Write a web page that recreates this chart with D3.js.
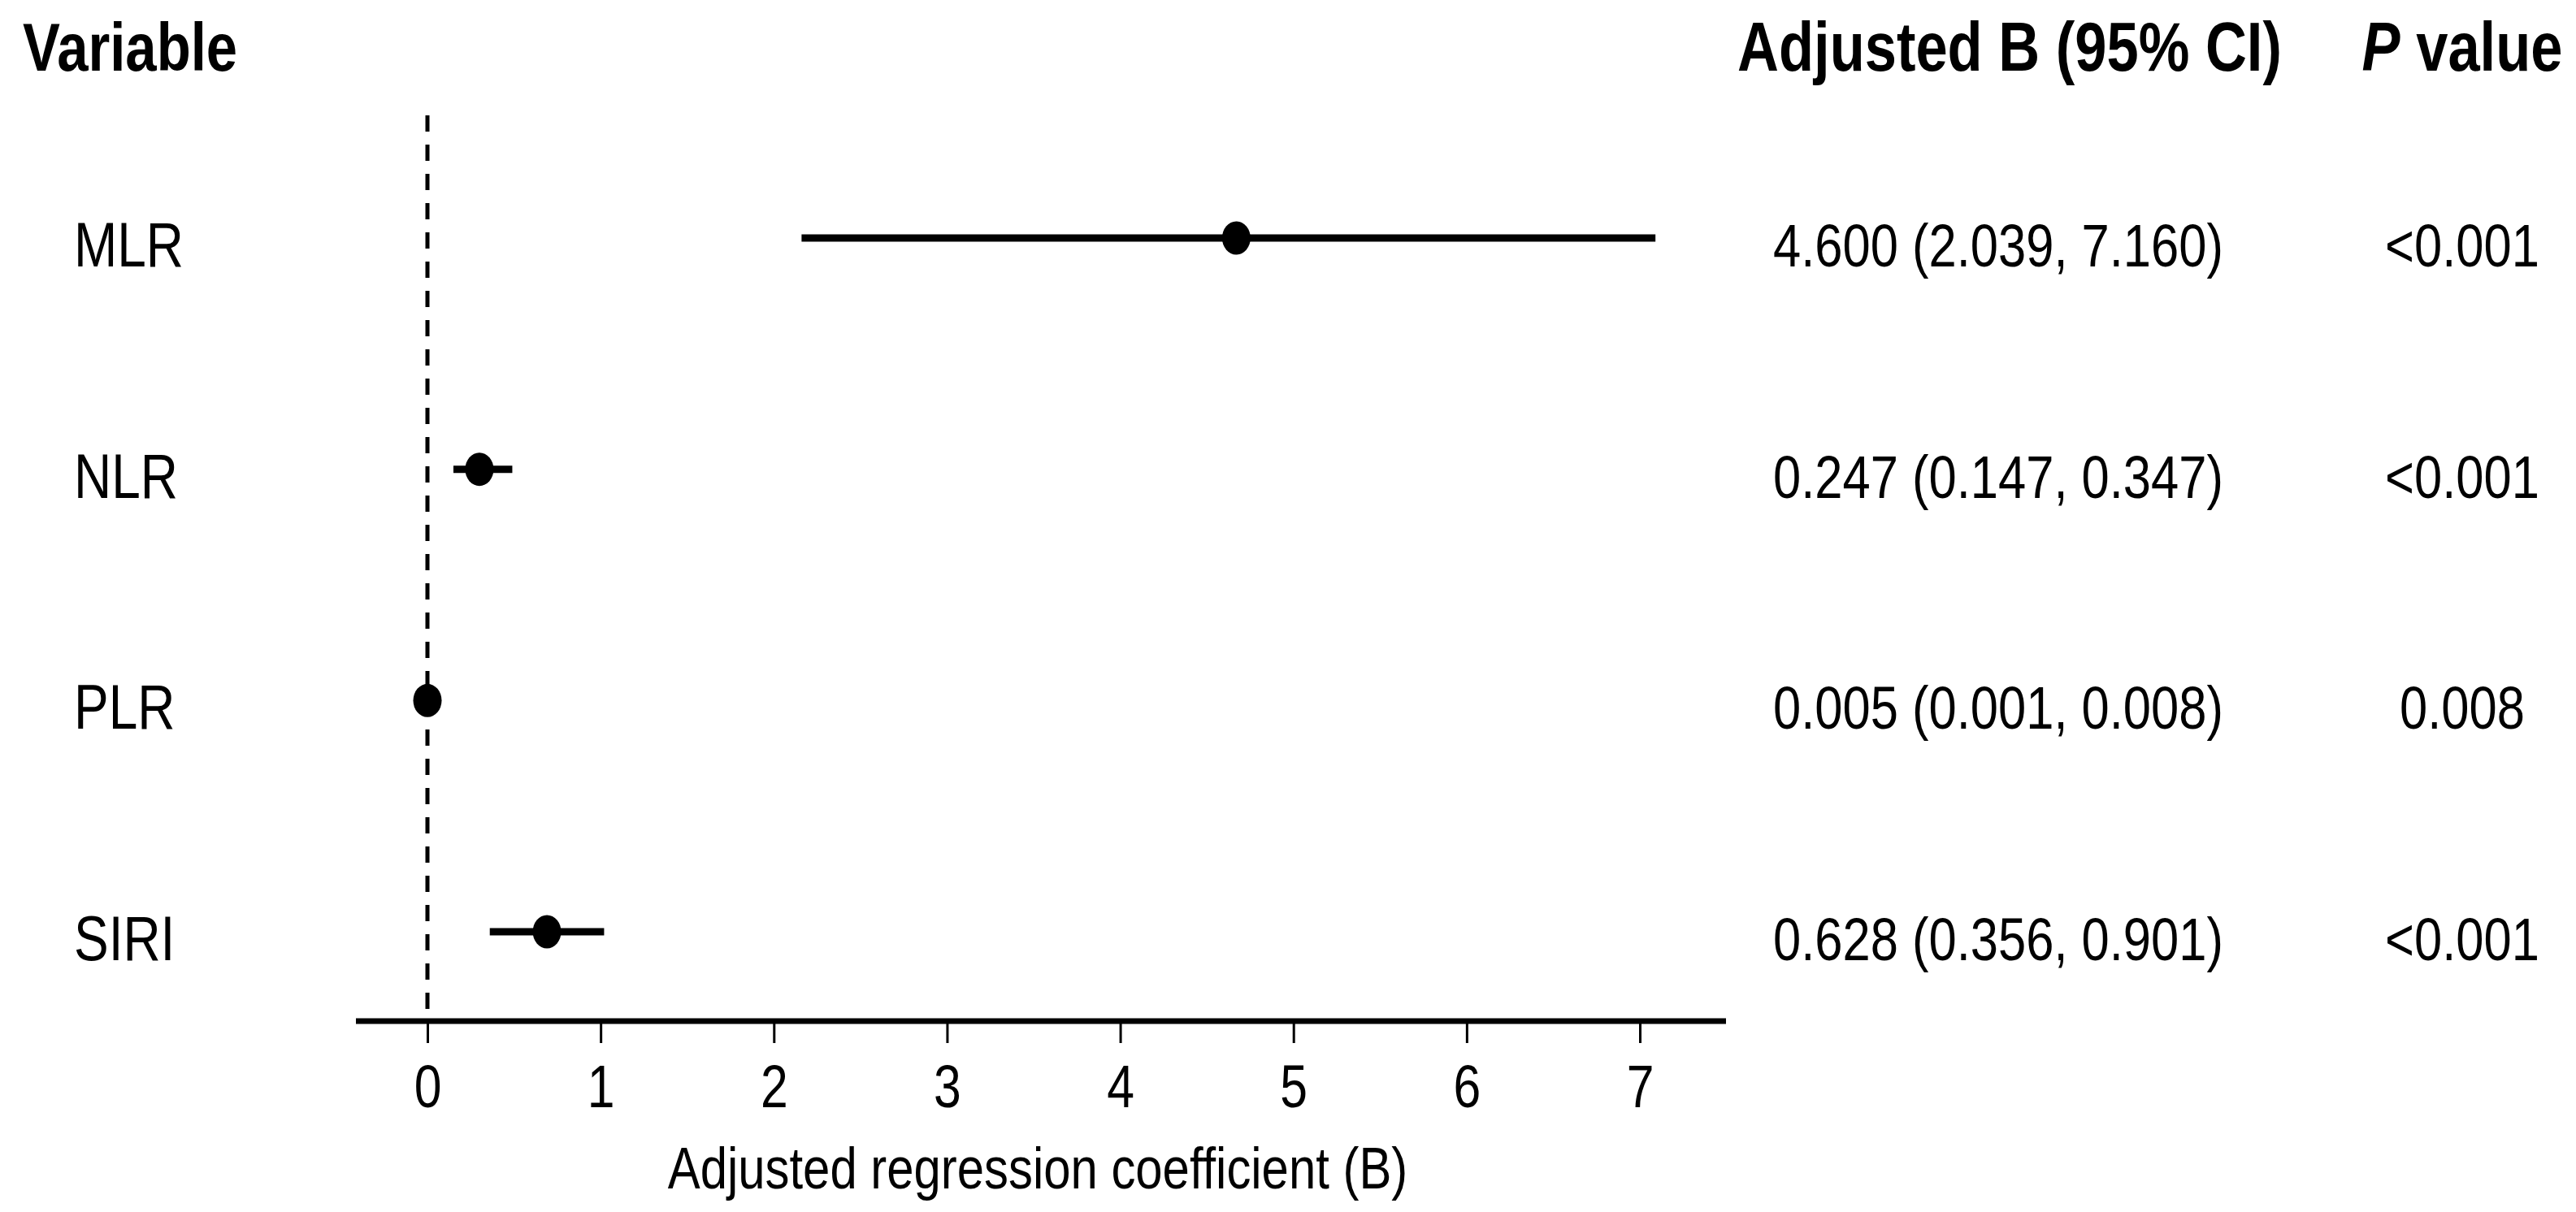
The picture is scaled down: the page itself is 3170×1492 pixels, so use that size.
<!DOCTYPE html>
<html>
<head>
<meta charset="utf-8">
<script src="https://cdn.jsdelivr.net/npm/d3@7"></script>
<style>
  html, body { margin: 0; padding: 0; background: #fff; }
  text { font-family: "Liberation Sans", Arial, sans-serif; fill: #000; }
</style>
</head>
<body>
<svg id="chart" width="3170" height="1492"></svg>
<script>
// variables, top to bottom
var variables = ["MLR", "NLR", "PLR", "SIRI"];
var estimate = [4.67, 0.30, 0.00, 0.69];
var lower    = [2.16, 0.15, 0.00, 0.36];
var upper    = [7.09, 0.49, 0.01, 1.02];
// text columns as printed
var ciLabels = ["4.600 (2.039, 7.160)", "0.247 (0.147, 0.347)", "0.005 (0.001, 0.008)", "0.628 (0.356, 0.901)"];
var pLabels  = ["<0.001", "<0.001", "0.008", "<0.001"];
var xTicks   = [0, 1, 2, 3, 4, 5, 6, 7];

var narrow = 0.82; // the figure uses a narrow face, squeeze Liberation Sans to match

var svg = d3.select("#chart");
svg.append("rect").attr("width", 3170).attr("height", 1492).attr("fill", "#fff");

var x = d3.scaleLinear().domain([0, 7]).range([526, 2018]);
var y = d3.scalePoint().domain(variables).range([293, 1147]);
var axisY = 1257;

var rows = variables.map(function (v, i) {
  return { name: v, est: estimate[i], lo: lower[i], hi: upper[i], ci: ciLabels[i], p: pLabels[i] };
});

function label(px, py, size, anchor) {
  return svg.append("text")
    .attr("transform", "translate(" + px + "," + py + ") scale(" + narrow + ",1)")
    .attr("text-anchor", anchor || "start")
    .attr("font-size", size);
}

// reference line at zero
svg.append("line")
  .attr("x1", x(0)).attr("x2", x(0))
  .attr("y1", 142).attr("y2", axisY)
  .attr("stroke", "#000").attr("stroke-width", 5)
  .attr("stroke-dasharray", "20,16");

// x axis
var axis = d3.axisBottom(x).tickValues(xTicks).tickFormat(d3.format("d")).tickSize(27).tickPadding(26);
var gx = svg.append("g").attr("transform", "translate(0," + axisY + ")").call(axis);
gx.select(".domain").remove();
gx.selectAll(".tick line").attr("stroke", "#000").attr("stroke-width", 3);
gx.selectAll(".tick text")
  .attr("font-size", 74).attr("font-family", null).attr("fill", "#000")
  .attr("transform", "scale(" + narrow + ",1)");
svg.append("line")
  .attr("x1", x.range()[0] - 88).attr("x2", x.range()[1] + 106)
  .attr("y1", axisY).attr("y2", axisY)
  .attr("stroke", "#000").attr("stroke-width", 7);

label(1277, 1463, 73, "middle").text("Adjusted regression coefficient (B)");

// whiskers and points
svg.selectAll(".ci").data(rows).enter().append("line")
  .attr("class", "ci")
  .attr("x1", function (d) { return x(d.lo); })
  .attr("x2", function (d) { return x(d.hi); })
  .attr("y1", function (d) { return y(d.name); })
  .attr("y2", function (d) { return y(d.name); })
  .attr("stroke", "#000").attr("stroke-width", 9);

svg.selectAll(".pt").data(rows).enter().append("ellipse")
  .attr("class", "pt")
  .attr("cx", function (d) { return x(d.est); })
  .attr("cy", function (d) { return y(d.name); })
  .attr("rx", 17.5).attr("ry", 20.5)
  .attr("fill", "#000");

// headers
label(28, 87, 84).attr("font-weight", "bold").text("Variable");
label(2473, 87, 86, "middle").attr("font-weight", "bold").text("Adjusted B (95% CI)");
var ph = label(3030, 87, 86, "middle").attr("font-weight", "bold");
ph.append("tspan").attr("font-style", "italic").text("P");
ph.append("tspan").text(" value");

// row texts
rows.forEach(function (d) {
  var ty = y(d.name) + 35;
  label(91, ty, 78).text(d.name);
  label(2459, ty, 75, "middle").text(d.ci);
  label(3030, ty, 75, "middle").text(d.p);
});
</script>
</body>
</html>
